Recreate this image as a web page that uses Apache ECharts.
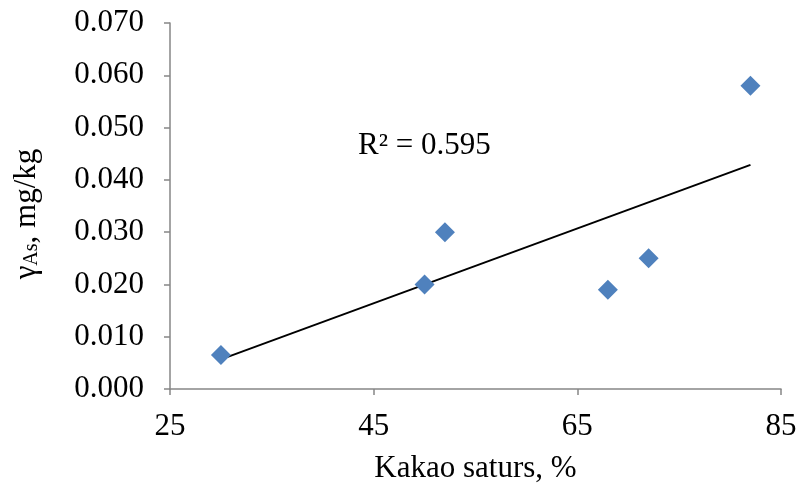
<!DOCTYPE html>
<html>
<head>
<meta charset="utf-8">
<script src="https://cdn.jsdelivr.net/npm/echarts@6/dist/echarts.min.js"></script>
<style>html,body{margin:0;padding:0;background:#fff}#c{width:800px;height:491px}</style>
</head>
<body>
<div id="c"></div>
<script>
var cocoa = [30, 50, 52, 68, 72, 82];
var arsenic = [0.0065, 0.020, 0.030, 0.019, 0.025, 0.058];
var xTicks = [25, 45, 65, 85];
var yTicks = [0, 0.01, 0.02, 0.03, 0.04, 0.05, 0.06, 0.07];
var r2Label = 'R² = 0.595';

// linear least-squares trendline from data
var n = cocoa.length, mx = 0, my = 0;
for (var i = 0; i < n; i++) { mx += cocoa[i]; my += arsenic[i]; }
mx /= n; my /= n;
var sxx = 0, sxy = 0;
for (var i = 0; i < n; i++) { sxx += (cocoa[i]-mx)*(cocoa[i]-mx); sxy += (cocoa[i]-mx)*(arsenic[i]-my); }
var slope = sxy / sxx, icpt = my - slope * mx;
var xMin = Math.min.apply(null, cocoa), xMax = Math.max.apply(null, cocoa);
var trend = [[xMin, icpt + slope*xMin], [xMax, icpt + slope*xMax]];

var font = '"Liberation Serif", "Times New Roman", serif';
var FS = 31;
var chart = echarts.init(document.getElementById('c'));
chart.setOption({
  animation: false,
  textStyle: { fontFamily: font },
  grid: { left: 170, right: 19, top: 23, bottom: 102 },
  xAxis: {
    type: 'value', min: xTicks[0], max: xTicks[xTicks.length-1], interval: 20,
    name: 'Kakao saturs, %', nameLocation: 'middle', nameGap: 64,
    nameTextStyle: { fontFamily: font, fontSize: FS, color: '#000' },
    axisLine: { lineStyle: { color: '#868686', width: 1.5 } },
    axisTick: { show: true, length: 6, lineStyle: { color: '#868686', width: 1.5 } },
    axisLabel: { fontFamily: font, fontSize: FS, color: '#000', margin: 22 },
    splitLine: { show: false }
  },
  yAxis: {
    type: 'value', min: 0, max: yTicks[yTicks.length-1], interval: 0.01,
    name: '{g|γ}{s|As}{g|, mg/kg}', nameLocation: 'middle', nameGap: 128, nameRotate: 90,
    nameTextStyle: {
      fontFamily: font, fontSize: FS, color: '#000', padding: [0, 16, 0, 0],
      rich: {
        g: { fontFamily: font, fontSize: FS, color: '#000', verticalAlign: 'bottom', lineHeight: 32 },
        s: { fontFamily: font, fontSize: 20, color: '#000', verticalAlign: 'bottom', lineHeight: 16 }
      }
    },
    axisLine: { show: true, lineStyle: { color: '#868686', width: 1.5 } },
    axisTick: { show: true, length: 6, lineStyle: { color: '#868686', width: 1.5 } },
    axisLabel: { fontFamily: font, fontSize: FS, color: '#000', margin: 26,
      formatter: function (v) { return v.toFixed(3); } },
    splitLine: { show: false }
  },
  series: [
    {
      type: 'line', data: trend, showSymbol: false, symbol: 'none',
      lineStyle: { color: '#000', width: 2 }, silent: true, z: 1
    },
    {
      type: 'scatter', data: cocoa.map(function (x, i) { return [x, arsenic[i]]; }),
      symbol: 'diamond', symbolSize: 20,
      itemStyle: { color: '#4F81BD', opacity: 1 }, z: 2
    }
  ],
  graphic: [{
    type: 'text', x: 358, y: 146,
    style: { text: r2Label, font: FS + 'px ' + font, fill: '#000', verticalAlign: 'middle', align: 'left' }
  }]
});
</script>
</body>
</html>
